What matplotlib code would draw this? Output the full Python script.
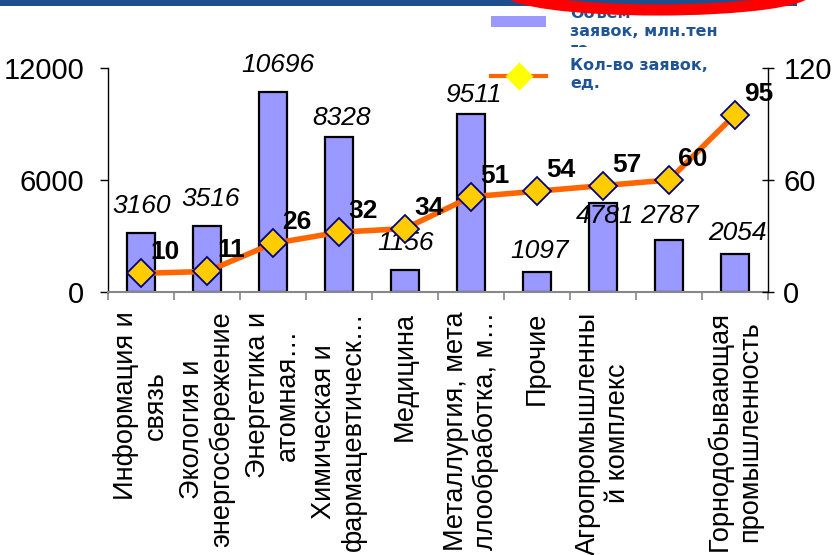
import matplotlib
matplotlib.use("Agg")
import matplotlib.pyplot as plt
from matplotlib.patches import Ellipse, Rectangle
from matplotlib.lines import Line2D
import numpy as np

plt.rcParams["font.family"] = ["Liberation Sans", "DejaVu Sans"]

categories = [
    "Информация и\nсвязь",
    "Экология и\nэнергосбережение",
    "Энергетика и\nатомная…",
    "Химическая и\nфармацевтическ…",
    "Медицина",
    "Металлургия, мета\nллообработка, м…",
    "Прочие",
    "Агропромышленны\nй комплекс",
    "",
    "Горнодобывающая\nпромышленность",
]
volume = [3160, 3516, 10696, 8328, 1156, 9511, 1097, 4781, 2787, 2054]
count = [10, 11, 26, 32, 34, 51, 54, 57, 60, 95]

# label offsets above bar top, in px
vol_dy = [27, 27, 27, 19, 27, 19, 21, -13, 24, 21]
vol_dx = [1, 4, 5, 3, 1, 2, 3, 2, 0, 2]

W, H = 839, 555
fig = plt.figure(figsize=(W / 100, H / 100), dpi=100)
px = 72 / 100  # points per pixel

x0, x1, ytop, ybot = 108, 768, 68, 292
ax = fig.add_axes([x0 / W, 1 - ybot / H, (x1 - x0) / W, (ybot - ytop) / H])
ax2 = ax.twinx()

x = np.arange(len(categories))
ax.bar(x, volume, width=0.41, color="#9999FF", edgecolor="black", linewidth=1.6, zorder=2)
ax.set_xlim(-0.5, len(categories) - 0.5)
ax.set_ylim(0, 12000)
ax.set_yticks([0, 6000, 12000])
ax.set_xticks(x)
ax.set_xticklabels(categories, rotation=90, ha="center", va="top",
                   multialignment="center", fontsize=19.5, linespacing=1.2)
ax.set_xticks(np.arange(-0.5, len(categories)), minor=True)
ax.tick_params(axis="x", which="major", length=0, pad=14)
ax.tick_params(axis="x", which="minor", length=6, width=1.2, color="#888888")
ax.tick_params(axis="y", labelsize=21, length=6, width=1, pad=11)

for s in ["top", "right"]:
    ax.spines[s].set_visible(False)
ax.spines["bottom"].set_color("#888888")
ax.spines["bottom"].set_linewidth(1.5)
ax.spines["left"].set_linewidth(1)

for i, v in enumerate(volume):
    ax.annotate(str(v), (x[i], v), xytext=(vol_dx[i] * px, vol_dy[i] * px),
                textcoords="offset points", ha="center", va="center",
                fontsize=19, style="italic", zorder=5)

ax2.plot(x, count, color="#FF6600", linewidth=4, marker="D", markersize=14,
         markerfacecolor="#FFCC00", markeredgecolor="#000080", markeredgewidth=1.3, zorder=3)
ax2.set_ylim(0, 120)
ax2.set_yticks([0, 60, 120])
ax2.tick_params(axis="y", labelsize=21, length=8, width=1, direction="inout", pad=7)
for s in ["top", "left", "bottom"]:
    ax2.spines[s].set_visible(False)
ax2.spines["right"].set_linewidth(1)

for i, c in enumerate(count):
    ax2.annotate(str(c), (x[i], c), xytext=(24 * px, 21 * px),
                 textcoords="offset points", ha="center", va="center",
                 fontsize=19, fontweight="bold", zorder=5)

# header band
fig.patches.append(Rectangle((0, 1 - 6 / H), 797 / W, 6 / H, transform=fig.transFigure,
                             facecolor="#1F4E8C", edgecolor="none", zorder=10))

# legend drawn by hand
blue = "#1F5597"
fig.patches.append(Rectangle((491 / W, 1 - 27 / H), 55 / W, 11 / H, transform=fig.transFigure,
                             facecolor="#9999FF", edgecolor="none"))
fig.lines.append(Line2D([491 / W, 546 / W], [1 - 76 / H, 1 - 76 / H], transform=fig.transFigure,
                        color="#FF6600", linewidth=3))
fig.lines.append(Line2D([519 / W], [1 - 76 / H], transform=fig.transFigure, marker="D",
                        markersize=14, markerfacecolor="#FFFF00", markeredgecolor="none"))
legend_lines = [("Объем", 13), ("заявок, млн.тен", 32), ("ге", 50),
                ("Кол-во заявок,", 65), ("ед.", 84)]
for txt, yy in legend_lines:
    fig.text(570 / W, 1 - yy / H, txt, color=blue, fontsize=11.5, fontweight="bold",
             family="DejaVu Sans", va="center")
fig.patches.append(Rectangle((565 / W, 1 - 57 / H), 60 / W, 10 / H, transform=fig.transFigure,
                             facecolor="white", edgecolor="none", zorder=8))

# red ellipse over the header
fig.patches.append(Ellipse((658 / W, 1 + 10 / H), 300 / W, 40 / H, transform=fig.transFigure,
                           facecolor="#1F4E8C", edgecolor="#FF0000", linewidth=8, zorder=11))

fig.savefig("out.png", dpi=100)
